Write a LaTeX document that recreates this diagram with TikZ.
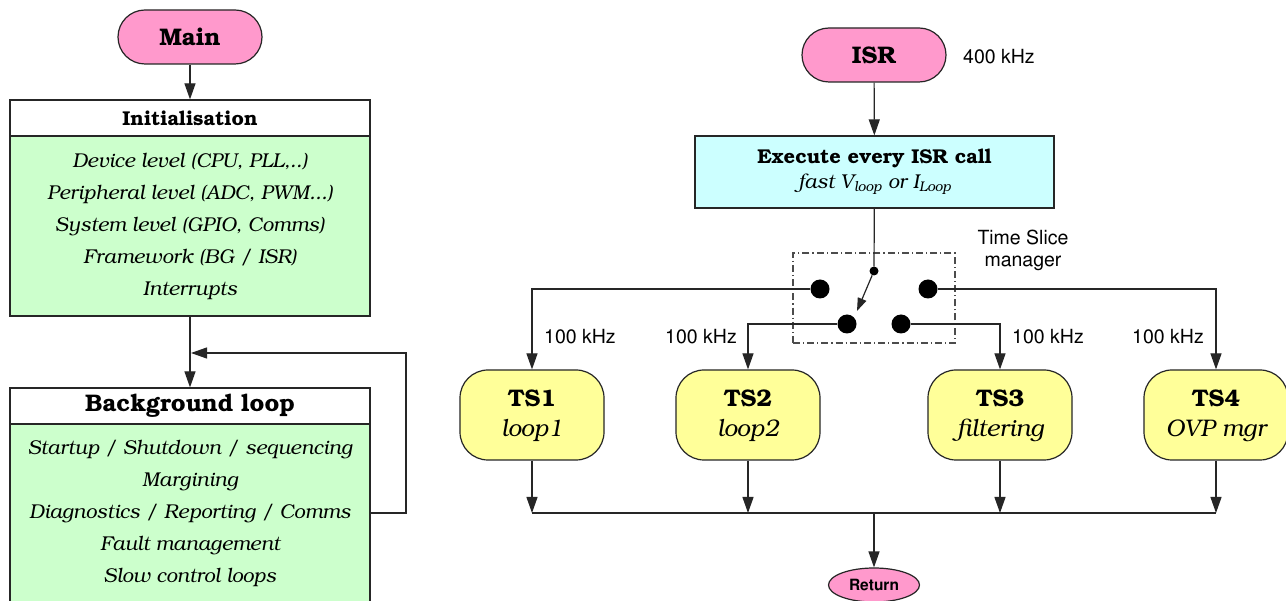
\documentclass[tikz,border=0pt]{standalone}
\usepackage[T1]{fontenc}
\renewcommand\rmdefault{pbk}
\renewcommand\sfdefault{phv}
\usetikzlibrary{arrows.meta,shapes.geometric}
\definecolor{pinkc}{HTML}{FF99CC}
\definecolor{grnc}{HTML}{CCFFCC}
\definecolor{cyanc}{HTML}{CCFFFF}
\definecolor{yelc}{HTML}{FFFF99}
\tikzset{
  ln/.style={line width=1.2pt, draw=black!85},
  arr/.style={ln, -{Triangle[width=11pt,length=16pt]}},
  arrs/.style={ln, -{Triangle[width=9pt,length=13pt]}},
  pill/.style={draw=black!85, line width=1.2pt, fill=pinkc, rounded corners=27pt, minimum width=144pt, minimum height=54pt, inner sep=0pt, font=\fontsize{24}{28}\selectfont\bfseries},
  tsbox/.style={draw=black!85, line width=1.2pt, fill=yelc, rounded corners=28pt, minimum width=144pt, minimum height=90pt, inner sep=0pt, align=center, font=\fontsize{24}{30}\selectfont},
  hdr/.style={draw=black!85, line width=1.2pt, fill=white, minimum width=360pt, minimum height=36pt, inner sep=0pt},
  bodyb/.style={draw=black!85, line width=1.2pt, fill=grnc, minimum width=360pt, inner sep=0pt, align=center, font=\fontsize{20}{32}\selectfont\itshape},
  bigdot/.style={circle, fill=black, minimum size=19pt, inner sep=0pt},
  smalldot/.style={circle, fill=black, minimum size=9pt, inner sep=0pt},
  freq/.style={font=\sffamily\fontsize{19.5}{22}\selectfont, inner sep=0pt},
}
\begin{document}
\begin{tikzpicture}[x=1pt,y=-1pt]
\clip (0,0) rectangle (1286,601);
\fill[white] (0,0) rectangle (1286,601);
% left column
\node[pill] (main) at (190,37) {Main};
\node[hdr, font=\fontsize{20}{22}\selectfont\bfseries] (inithdr) at (190,118) {Initialisation};
\node[bodyb, minimum height=180pt] (initbody) at (190,226) {Device level (CPU, PLL,..)\\Peripheral level (ADC, PWM...)\\System level (GPIO, Comms)\\Framework (BG / ISR)\\Interrupts};
\node[hdr, font=\fontsize{24}{26}\selectfont\bfseries] (bghdr) at (190,406) {Background loop};
\node[bodyb, minimum height=178pt] (bgbody) at (190,513) {Startup / Shutdown / sequencing\\Margining\\Diagnostics / Reporting / Comms\\Fault management\\Slow control loops};
\coordinate (fbx) at (406,353);
\coordinate (fbend) at (191,353);
\draw[arr] (main) -- (inithdr);
\draw[arr] (initbody) -- (bghdr);
\draw[arr] (bgbody.east) -- (bgbody.east -| fbx) -- (fbx) -- (fbend);
% right column
\node[pill] (isr) at (874,55) {ISR};
\node[freq, anchor=west] (f400) at (963,57) {400 kHz};
\node[draw=black!85, line width=1.2pt, fill=cyanc, minimum width=359pt, minimum height=72pt, inner sep=0pt, align=center, font=\fontsize{20}{25}\selectfont] (exec) at (874.5,172) {\bfseries Execute every ISR call\\\itshape fast V\textsubscript{loop} or I\textsubscript{Loop}};
\draw[arr] (isr) -- (exec);
\node[draw=black!70, line width=1.1pt, dash pattern=on 7pt off 3pt on 1.2pt off 3pt, minimum width=162pt, minimum height=90pt, inner sep=0pt] (tsm) at (874,298) {};
\node[freq, align=center, font=\sffamily\fontsize{19.5}{22}\selectfont] (tslabel) at (1023,251) {Time Slice\\manager};
\node[smalldot] (sdot) at (874,271) {};
\node[bigdot] (d1) at (820,289) {};
\node[bigdot] (d4) at (928,289) {};
\node[bigdot] (d2) at (847,324) {};
\node[bigdot] (d3) at (901,324) {};
\coordinate (swtip) at (857,311);
\draw[ln] (exec) -- (sdot);
\draw[arrs] (sdot) -- (swtip);
\node[tsbox] (ts1) at (532,415) {\bfseries TS1\\\itshape loop1};
\node[tsbox] (ts2) at (748,415) {\bfseries TS2\\\itshape loop2};
\node[tsbox] (ts3) at (1000,415) {\bfseries TS3\\\itshape filtering};
\node[tsbox] (ts4) at (1216,415) {\bfseries TS4\\\itshape OVP mgr};
\draw[arr] (d1) -| (ts1);
\draw[arr] (d2) -| (ts2);
\draw[arr] (d3) -| (ts3);
\draw[arr] (d4) -| (ts4);
\node[freq] (k1) at (580,337) {100 kHz};
\node[freq] (k2) at (701,337) {100 kHz};
\node[freq] (k3) at (1048,337) {100 kHz};
\node[freq] (k4) at (1168,337) {100 kHz};
\coordinate (j1) at (532,513);
\coordinate (j2) at (748,513);
\coordinate (j3) at (1000,513);
\coordinate (j4) at (1216,513);
\coordinate (jc) at (874,513);
\draw[ln] (j1) -- (j4);
\draw[arr] (ts1) -- (j1);
\draw[arr] (ts2.south) -- (j2);
\draw[arr] (ts3) -- (j3);
\draw[arr] (ts4) -- (j4);
\node[ellipse, draw=black!85, line width=1.2pt, fill=pinkc, minimum width=91pt, minimum height=34pt, inner sep=0pt, font=\sffamily\bfseries\fontsize{15.5}{17}\selectfont] (ret) at (874,585) {Return};
\draw[arr] (jc) -- (ret);
\end{tikzpicture}
\end{document}
